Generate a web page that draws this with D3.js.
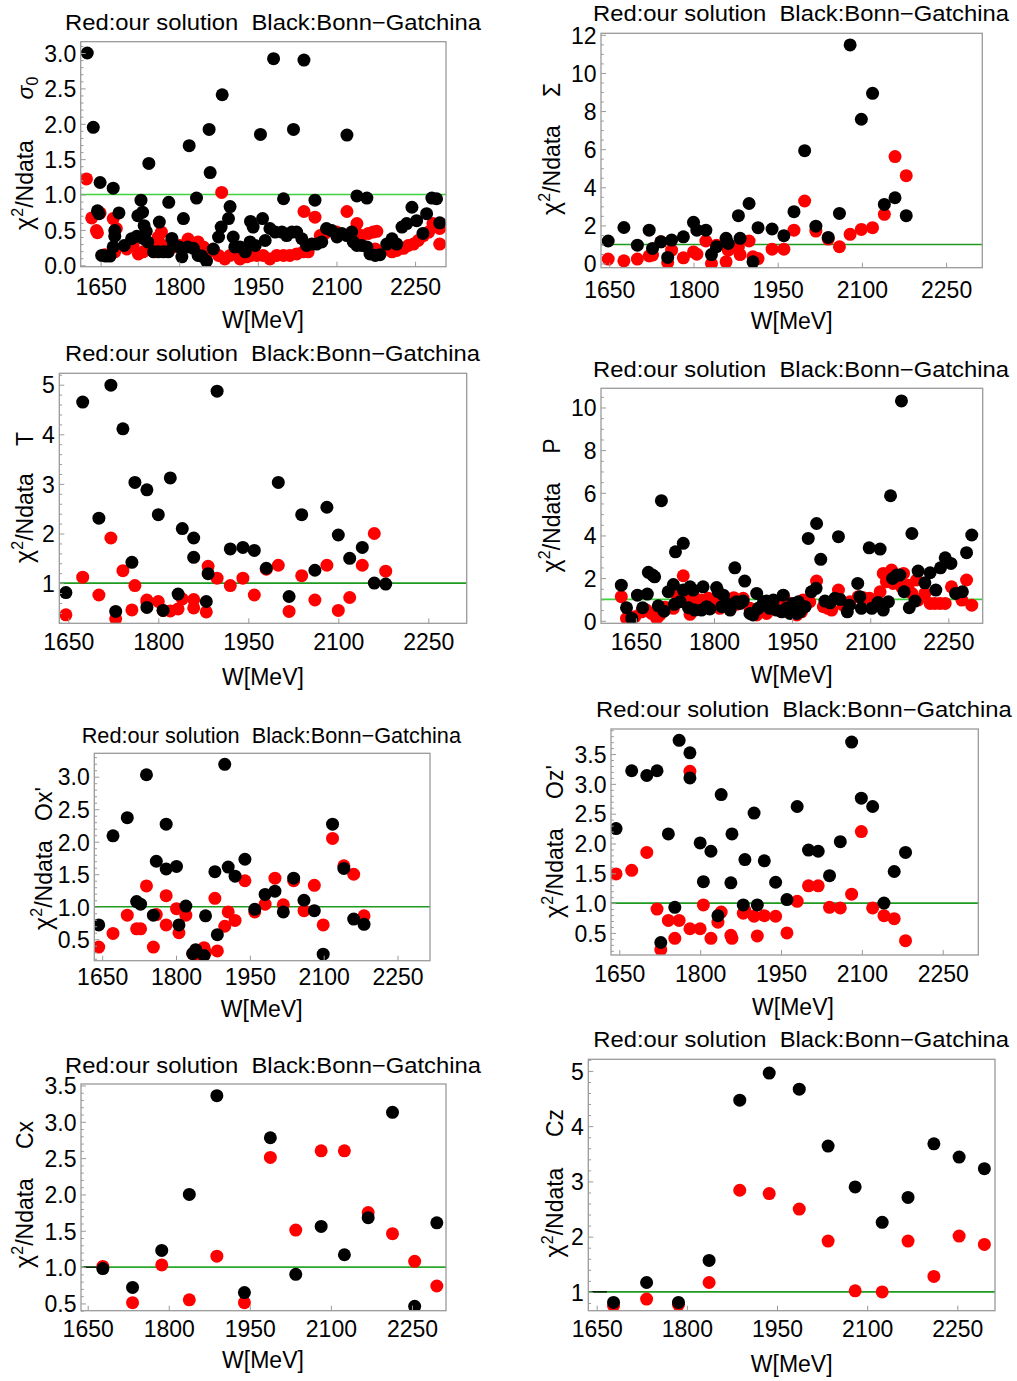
<!DOCTYPE html>
<html><head><meta charset="utf-8">
<script src="https://cdn.jsdelivr.net/npm/d3@7"></script>
<style>
body{margin:0;background:#fff}
svg{display:block}
text{font-family:"Liberation Sans",Arial,Helvetica,sans-serif;fill:#000}
</style>
</head><body>
<svg id="chart" width="1017" height="1381"></svg>
<script>
// ---------------- DATA ----------------
const titleText = "Red:our solution  Black:Bonn\u2212Gatchina";
const xTickValues = [1650, 1800, 1950, 2100, 2250];

// sigma_0
const s0BlackW = [1624.5,1636,1644,1647,1649,1652,1660,1668,1674,1674,1677,1677,1685,1695,1709,1719,1721,1727,1730,1732,1733,1737,1740,1742,1751,1760,1762,1770,1779,1780,1786,1789,1800,1805,1808,1816,1819,1827,1833,1836,1843,1852,1857,1859,1865,1875,1880,1882,1894,1897,1903,1906,1916,1926,1935,1936,1941,1945,1955,1959,1964,1973,1980,1983,1996,1999,2005,2015,2018,2024,2034,2038,2043,2053,2059,2062,2072,2081,2091,2101,2110,2120,2120,2129,2132,2139,2139,2148,2158,2158,2164,2174,2183,2196,2206,2215,2225,2234,2244,2253,2265,2272,2282,2291,2297];
const s0Black  = [3.00,1.95,0.77,0.73,1.17,0.14,0.13,0.13,1.09,0.26,0.49,0.41,0.74,0.28,0.375,0.41,0.70,0.92,0.75,0.375,0.56,0.48,0.33,1.44,0.19,0.19,0.61,0.19,0.19,0.89,0.38,0.30,0.26,0.12,0.66,0.26,1.69,0.24,0.95,0.14,0.13,0.06,1.92,1.31,0.23,0.40,0.54,2.41,0.66,0.83,0.40,0.26,0.26,0.19,0.33,0.62,0.54,0.28,1.85,0.66,0.35,0.52,2.92,0.47,0.47,0.94,0.42,0.47,1.92,0.47,0.375,2.90,0.28,0.30,0.92,0.30,0.33,0.52,0.49,0.40,0.45,1.84,0.42,0.47,0.33,0.98,0.28,0.28,0.95,0.26,0.16,0.14,0.15,0.30,0.375,0.30,0.54,0.59,0.82,0.63,0.45,0.73,0.95,0.94,0.60];
const s0RedW = [1623,1633,1642,1644,1649,1658,1668,1674,1677,1680,1700,1712,1722,1731,1741,1754,1760,1766,1770,1779,1789,1801,1817,1827,1836,1846,1855,1865,1875,1881,1887,1897,1906,1916,1929,1938,1948,1960,1973,1986,1999,2011,2024,2037,2038,2046,2059,2069,2078,2088,2100,2120,2135,2139,2148,2161,2170,2177,2174,2183,2196,2206,2215,2228,2237,2247,2256,2266,2276,2284,2297,2297];
const s0Red  = [1.22,0.67,0.49,0.46,0.74,0.15,0.14,0.66,0.19,0.52,0.23,0.28,0.16,0.19,0.23,0.30,0.40,0.47,0.28,0.23,0.26,0.28,0.37,0.28,0.33,0.26,0.19,0.21,0.14,1.03,0.09,0.14,0.19,0.09,0.12,0.14,0.14,0.14,0.09,0.14,0.14,0.14,0.16,0.19,0.76,0.19,0.68,0.42,0.45,0.49,0.47,0.76,0.49,0.59,0.42,0.45,0.47,0.48,0.23,0.19,0.23,0.19,0.21,0.24,0.28,0.30,0.35,0.42,0.47,0.59,0.52,0.30];

// Sigma
const sgW     = [1648,1676,1700,1721,1727,1742,1754,1761,1782,1800,1806,1822,1832,1841,1858,1862,1880,1883,1899,1906,1915,1940,1961,1979,1998,2018,2040,2060,2079,2099,2119,2140,2159,2179];
const sgBlack = [1.18,1.89,0.96,1.75,0.79,1.14,0.32,1.23,1.40,2.16,1.75,1.75,0.47,0.88,1.32,1.05,2.51,1.32,3.15,0.09,1.88,1.81,1.46,2.72,5.92,1.96,1.37,2.63,11.47,7.57,8.93,3.10,3.45,2.51];
const sgRed   = [0.23,0.14,0.23,0.40,0.44,1.14,0.05,0.70,0.30,0.61,0.49,1.18,0.00,0.96,0.09,0.70,0.88,0.47,1.18,0.35,0.26,0.75,0.75,1.75,3.28,1.70,1.28,0.88,1.53,1.79,1.88,2.58,5.61,4.61];

// T
const tW     = [1646,1674,1701,1721,1729,1741,1756,1761,1781,1781,1800,1808,1820,1833,1840,1859,1859,1880,1883,1898,1920,1941,1960,1980,2000,2018,2039,2061,2081,2100,2119,2140,2160,2179];
const tBlack = [0.81,4.65,2.31,4.99,0.43,4.11,1.42,3.03,0.51,2.88,2.38,0.45,3.12,0.78,2.10,1.91,1.52,0.63,1.19,4.87,1.69,1.72,1.66,1.30,3.03,0.73,2.38,1.26,2.53,1.97,1.50,1.72,1.00,0.98];
const tRed   = [0.36,1.12,0.76,1.91,0.28,1.25,0.46,0.95,0.66,0.62,0.63,0.45,0.44,0.48,0.68,0.67,0.50,0.42,1.34,1.10,0.95,1.10,0.76,1.28,1.36,0.43,1.15,0.66,1.36,0.45,0.71,1.36,2.00,1.24];

// P
const pBlackW = [1622,1632,1642,1653,1663,1672,1674,1682,1686,1693,1699,1704,1712,1722,1724,1726,1735,1741,1741,1751,1754,1760,1763,1776,1779,1786,1792,1805,1808,1815,1818,1824,1831,1840,1843,1850,1856,1859,1869,1875,1882,1885,1895,1901,1907,1914,1920,1930,1933,1939,1946,1952,1959,1962,1965,1975,1981,1987,1996,1997,2005,2013,2023,2032,2039,2042,2056,2060,2076,2080,2083,2098,2103,2115,2119,2125,2135,2139,2143,2151,2157,2160,2165,2175,2180,2186,2192,2205,2215,2226,2235,2244,2255,2264,2277,2285,2295];
const pBlack  = [1.67,0.61,0.11,1.20,0.61,1.25,2.27,2.14,2.06,0.70,5.63,0.45,1.36,1.70,0.77,3.23,0.89,3.63,1.44,0.61,1.59,1.44,0.50,0.50,1.59,0.66,0.55,1.56,1.36,0.66,1.20,0.81,0.50,2.48,0.89,0.81,0.92,1.86,0.34,0.27,1.28,0.58,0.89,0.92,0.58,0.97,0.50,0.42,1.20,0.58,0.34,0.81,0.34,0.89,0.42,0.66,3.86,1.36,1.52,4.56,2.88,0.92,0.84,1.05,3.94,1.00,0.42,0.73,1.75,1.13,0.58,3.42,0.58,0.86,3.36,0.50,0.89,5.86,1.98,2.14,2.14,10.31,1.36,0.61,4.09,0.92,2.33,1.78,2.25,1.44,2.48,2.95,2.69,1.28,1.36,3.19,4.02];
const pRedW = [1622,1632,1648,1661,1670,1680,1690,1696,1706,1722,1728,1738,1741,1747,1754,1760,1767,1776,1783,1789,1795,1805,1811,1821,1831,1838,1843,1856,1869,1882,1888,1901,1914,1920,1933,1939,1952,1959,1968,1971,1984,1997,2010,2019,2026,2039,2048,2061,2077,2087,2099,2119,2125,2131,2141,2144,2160,2164,2173,2180,2189,2192,2205,2215,2224,2234,2244,2256,2276,2285,2295];
const pRed  = [1.13,0.11,0.19,0.42,0.50,0.34,0.11,0.27,0.63,0.58,1.23,0.97,2.11,0.89,0.30,1.20,0.81,0.97,0.81,1.05,0.89,0.81,0.58,1.02,0.89,1.08,0.77,1.05,0.58,0.27,0.42,0.34,0.58,0.89,1.17,0.89,0.73,0.27,0.42,0.97,0.89,1.86,0.66,0.58,0.50,1.44,0.73,0.89,1.13,1.08,1.05,1.36,2.22,1.83,2.38,1.75,1.59,2.22,1.67,1.28,1.91,0.97,1.28,0.81,0.81,0.81,0.81,1.59,0.97,1.91,0.73];

// Ox'
const oxW     = [1643,1672,1701,1720,1728,1740,1754,1760,1780,1780,1801,1806,1820,1834,1840,1857,1860,1879,1884,1899,1906,1920,1940,1960,1981,2001,2018,2039,2060,2081,2099,2118,2141,2161,2182];
const oxBlack = [0.72,2.09,2.37,1.08,1.04,3.03,0.87,1.70,2.27,1.58,1.62,0.72,1.01,0.28,0.34,0.25,0.86,1.54,0.57,3.19,1.61,1.47,1.73,0.96,1.19,1.24,0.92,1.44,1.10,0.94,0.27,2.27,1.59,0.81,0.73];
const oxRed   = [0.38,0.59,0.87,0.66,0.66,1.32,0.38,0.88,1.17,0.72,0.97,0.60,0.87,0.28,0.26,0.37,0.30,1.13,0.32,0.70,0.92,0.79,1.40,0.92,1.04,1.44,1.03,1.40,0.94,1.33,0.72,2.05,1.63,1.50,0.86];

// Oz'
const ozW     = [1644,1673,1701,1720,1727,1741,1753,1761,1781,1781,1800,1806,1820,1833,1839,1857,1859,1880,1883,1900,1906,1919,1940,1961,1980,2001,2019,2040,2060,2081,2099,2120,2141,2160,2181];
const ozBlack = [2.25,3.22,3.14,3.22,0.34,2.16,0.93,3.73,3.52,3.10,2.01,1.36,1.87,0.79,2.82,1.34,2.16,0.97,1.73,2.51,0.97,1.71,1.35,1.06,2.62,1.89,1.87,1.46,2.03,3.70,2.76,2.62,1.00,1.53,1.85];
const ozRed   = [1.49,1.55,1.85,0.90,0.22,0.71,0.41,0.71,3.21,0.57,0.57,0.97,0.41,0.68,0.85,0.46,0.41,0.83,0.88,0.78,0.45,0.79,0.78,0.50,1.03,1.29,1.29,0.93,0.92,1.15,2.20,0.92,0.79,0.74,0.37];

// Cx
const cxW     = [1678,1733,1787,1838,1889,1940,1988,2035,2082,2125,2169,2214,2255,2296];
const cxBlack = [0.98,0.72,1.23,2.00,3.36,0.65,2.78,0.90,1.56,1.17,1.68,3.13,0.46,1.61];
const cxRed   = [1.01,0.51,1.03,0.55,1.15,0.51,2.51,1.51,2.60,2.60,1.75,1.46,1.08,0.74];

// Cz
const czW     = [1678,1733,1786,1837,1888,1937,1987,2035,2080,2125,2168,2211,2253,2295];
const czBlack = [0.81,1.17,0.81,1.57,4.47,4.96,4.67,3.64,2.90,2.26,2.71,3.68,3.44,3.23];
const czRed   = [0.75,0.87,0.77,1.17,2.84,2.78,2.50,1.92,1.02,1.00,1.92,1.28,2.01,1.86];

// short black reference segment at chi2/N = 1 (Cx, Cz panels)
const cxSegW = [1643, 1672];
const czSegW = [1642, 1667];

// ---------------- LAYOUT ----------------
const GREEN_LIGHT = "#3fd23f", GREEN_DARK = "#1f9a1f";
const panels = [
  {key:"s0", frame:[80.7,446,41.7,266.7], xd:[1612,2309], yd:[-0.02,3.16], yt:[0,0.5,1,1.5,2,2.5,3], fmt:".1f", minor:0.1,
   title:[65,481,30], xtl:295, xl:[263,328], yl:[33,185,88], sym:"sigma0", green:GREEN_LIGHT,
   series:[[s0RedW,s0Red,"#ff0000"],[s0BlackW,s0Black,"#000"]]},
  {key:"sg", frame:[601,982.3,33.3,267.7], xd:[1635.2,2314.5], yd:[-0.22,12.08], yt:[0,2,4,6,8,10,12], fmt:"d", minor:0.5,
   title:[593,1009,20.7], xtl:298, xl:[791.7,329], yl:[560,170,90], sym:"\u03A3", green:GREEN_DARK,
   series:[[sgW,sgRed,"#ff0000"],[sgW,sgBlack,"#000"]]},
  {key:"t", frame:[59.3,466.7,373.3,623.3], xd:[1635,2314], yd:[0.19,5.23], yt:[1,2,3,4,5], fmt:"d", minor:0.2,
   title:[65,480,361], xtl:650, xl:[263,685], yl:[33,518,439], sym:"T", green:GREEN_DARK,
   series:[[tW,tRed,"#ff0000"],[tW,tBlack,"#000"]]},
  {key:"p", frame:[601,982.7,388.3,623.3], xd:[1583,2316], yd:[-0.12,10.9], yt:[0,2,4,6,8,10], fmt:"d", minor:0.5,
   title:[593,1009,376.7], xtl:650, xl:[791.7,683], yl:[560,527.5,446], sym:"P", green:GREEN_LIGHT,
   series:[[pRedW,pRed,"#ff0000"],[pBlackW,pBlack,"#000"]]},
  {key:"ox", frame:[94.3,430,753.3,960.7], xd:[1634,2316], yd:[0.17,3.36], yt:[0.5,1,1.5,2,2.5,3], fmt:".1f", minor:0.1,
   title:[81.7,461,743.3], xtl:985, xl:[261.7,1016.7], yl:[51.7,885,804], sym:"Ox'", green:GREEN_DARK,
   series:[[oxW,oxRed,"#ff0000"],[oxW,oxBlack,"#000"]]},
  {key:"oz", frame:[611,978.3,729,955], xd:[1634.6,2316], yd:[0.13,3.92], yt:[0.5,1,1.5,2,2.5,3,3.5], fmt:".1f", minor:0.1,
   title:[596,1011.7,716.7], xtl:981.7, xl:[793,1015], yl:[563,873,782], sym:"Oz'", green:GREEN_DARK,
   series:[[ozW,ozRed,"#ff0000"],[ozW,ozBlack,"#000"]]},
  {key:"cx", frame:[81,446,1084,1310.7], xd:[1637.6,2313], yd:[0.4,3.52], yt:[0.5,1,1.5,2,2.5,3,3.5], fmt:".1f", minor:0.1,
   title:[65,481,1072.7], xtl:1336.7, xl:[263,1368.3], yl:[33.3,1223,1135], sym:"Cx", green:"#2aa82a", seg:cxSegW,
   series:[[cxW,cxRed,"#ff0000"],[cxW,cxBlack,"#000"]]},
  {key:"cz", frame:[588.3,995,1059.3,1310.7], xd:[1636,2312.7], yd:[0.66,5.21], yt:[1,2,3,4,5], fmt:"d", minor:0.2,
   title:[593.3,1009,1046.7], xtl:1336.7, xl:[791.7,1371.7], yl:[563.3,1212.5,1123], sym:"Cz", green:GREEN_DARK, seg:czSegW,
   series:[[czW,czRed,"#ff0000"],[czW,czBlack,"#000"]]}
];

const svg = d3.select("#chart");
const defs = svg.append("defs");
const FRAME = "#9a9a9a";
const R = 6.5;
const TICKFONT = 23;

panels.forEach(p => {
  const [fx0, fx1, fy0, fy1] = p.frame;
  const x = d3.scaleLinear().domain(p.xd).range([fx0, fx1]);
  const y = d3.scaleLinear().domain(p.yd).range([fy1, fy0]);
  const g = svg.append("g");

  defs.append("clipPath").attr("id", "clip-" + p.key)
    .append("rect").attr("x", fx0).attr("y", fy0).attr("width", fx1 - fx0).attr("height", fy1 - fy0);

  const plot = g.append("g").attr("clip-path", `url(#clip-${p.key})`);
  plot.append("line").attr("x1", fx0).attr("x2", fx1).attr("y1", y(1)).attr("y2", y(1))
    .attr("stroke", p.green).attr("stroke-width", 1.6);
  if (p.seg) {
    plot.append("line").attr("x1", x(p.seg[0])).attr("x2", x(p.seg[1])).attr("y1", y(1)).attr("y2", y(1))
      .attr("stroke", "#000").attr("stroke-width", 1.2);
  }
  p.series.forEach(([ws, vs, col]) => {
    plot.append("g").selectAll("circle").data(d3.zip(ws, vs)).join("circle")
      .attr("cx", d => x(d[0])).attr("cy", d => y(d[1])).attr("r", R).attr("fill", col);
  });

  // frame
  g.append("rect").attr("x", fx0).attr("y", fy0).attr("width", fx1 - fx0).attr("height", fy1 - fy0)
    .attr("fill", "none").attr("stroke", FRAME).attr("stroke-width", 1.3);

  // bottom axis
  const xa = g.append("g").attr("transform", `translate(0,${fy1})`)
    .call(d3.axisBottom(x).tickValues(xTickValues).tickSize(-5).tickFormat(d3.format("d")));
  xa.select(".domain").remove();
  xa.selectAll("line").attr("stroke", FRAME);
  xa.selectAll("text").attr("y", p.xtl - fy1).attr("dy", null)
    .attr("font-size", TICKFONT).attr("fill", "#000");
  xa.attr("font-family", null).attr("font-size", null);

  // left axis major
  const fmt = d3.format(p.fmt);
  const ya = g.append("g").attr("transform", `translate(${fx0},0)`)
    .call(d3.axisLeft(y).tickValues(p.yt).tickSize(-5).tickPadding(4.5).tickFormat(fmt));
  ya.select(".domain").remove();
  ya.selectAll("line").attr("stroke", FRAME);
  ya.selectAll("text").attr("font-size", TICKFONT).attr("dy", "0.36em").attr("fill", "#000");
  ya.attr("font-family", null).attr("font-size", null);

  // left axis minor
  const lo = Math.ceil(p.yd[0] / p.minor) * p.minor;
  const minors = d3.range(lo, p.yd[1], p.minor)
    .filter(v => !p.yt.some(t => Math.abs(t - v) < 1e-6));
  const ym = g.append("g").attr("transform", `translate(${fx0},0)`)
    .call(d3.axisLeft(y).tickValues(minors).tickSize(-2.8).tickFormat(""));
  ym.select(".domain").remove();
  ym.selectAll("line").attr("stroke", FRAME);

  // title
  g.append("text").attr("x", p.title[0]).attr("y", p.title[2])
    .attr("font-size", 22).attr("textLength", p.title[1] - p.title[0]).attr("lengthAdjust", "spacingAndGlyphs")
    .style("white-space", "pre").text(titleText);

  // x label
  g.append("text").attr("x", p.xl[0]).attr("y", p.xl[1]).attr("text-anchor", "middle")
    .attr("font-size", 23).text("W[MeV]");

  // y label: chi^2/Ndata
  const [bx, cy, sy] = p.yl;
  const chi = g.append("text").attr("transform", `translate(${bx},${cy}) rotate(-90)`)
    .attr("text-anchor", "middle").attr("font-size", 23);
  chi.append("tspan").attr("font-size", 25).text("\u03C7");
  chi.append("tspan").attr("font-size", 16).attr("dy", -10).text("2");
  chi.append("tspan").attr("dy", 10).text("/Ndata");

  // observable symbol
  const sym = g.append("text").attr("transform", `translate(${bx},${sy}) rotate(-90)`)
    .attr("text-anchor", "middle").attr("font-size", 23);
  if (p.sym === "sigma0") {
    sym.append("tspan").attr("font-style", "italic").text("\u03C3");
    sym.append("tspan").attr("font-size", 16).attr("dy", 5).text("0");
  } else {
    sym.text(p.sym);
  }
});
</script>
</body></html>
